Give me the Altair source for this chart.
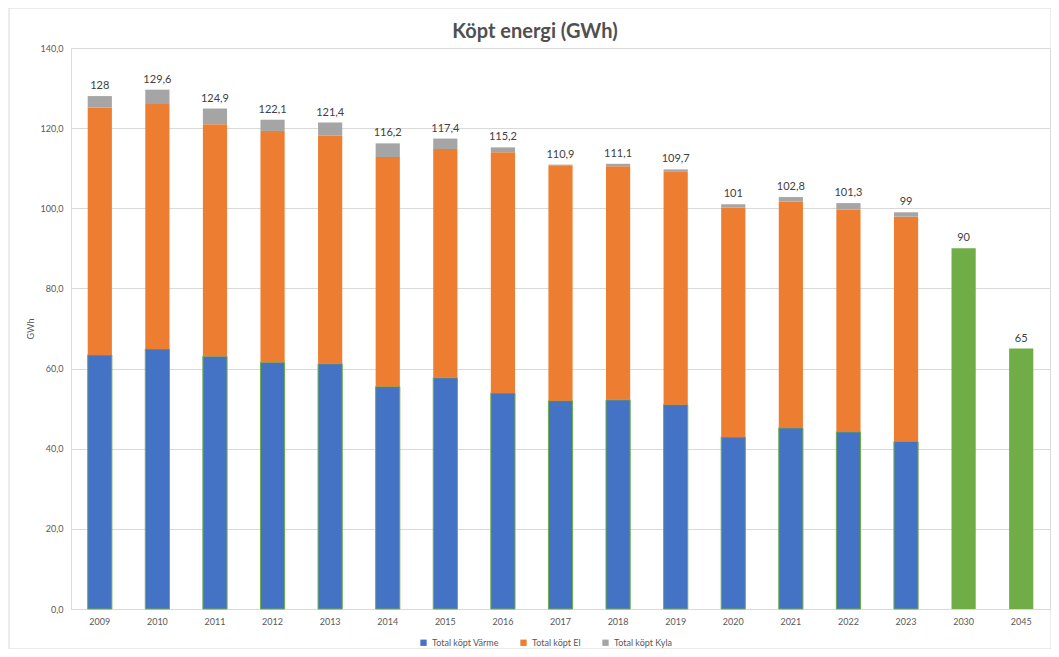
import altair as alt
import pandas as pd

years = ["2009", "2010", "2011", "2012", "2013", "2014", "2015", "2016",
         "2017", "2018", "2019", "2020", "2021", "2022", "2023"]
varme = [63.4, 64.9, 63.1, 61.6, 61.2, 55.5, 57.7, 53.9,
         52.0, 52.2, 51.0, 42.9, 45.2, 44.2, 41.8]
el = [61.7, 61.1, 57.9, 57.7, 56.9, 57.3, 57.1, 60.1,
      58.6, 58.3, 58.1, 57.3, 56.5, 55.5, 56.1]
kyla = [2.9, 3.6, 3.9, 2.8, 3.3, 3.4, 2.6, 1.2,
        0.3, 0.6, 0.6, 0.8, 1.1, 1.6, 1.1]

goal_years = ["2030", "2045"]
goal_values = [90, 65]

all_years = years + goal_years
totals = [128, 129.6, 124.9, 122.1, 121.4, 116.2, 117.4, 115.2,
          110.9, 111.1, 109.7, 101, 102.8, 101.3, 99, 90, 65]
total_labels = ["128", "129,6", "124,9", "122,1", "121,4", "116,2", "117,4", "115,2",
                "110,9", "111,1", "109,7", "101", "102,8", "101,3", "99", "90", "65"]

series = ["Total köpt Värme", "Total köpt El", "Total köpt Kyla"]
series_colors = ["#4472C4", "#ED7D31", "#A5A5A5"]
series_strokes = ["#70AD47", "transparent", "transparent"]
goal_color = "#70AD47"
title_text = "Köpt energi (GWh)"

FONT = "Lato"
TXT = "#595959"

rows = []
for i, y in enumerate(years):
    for k, (name, vals) in enumerate(zip(series, [varme, el, kyla])):
        rows.append({"year": y, "serie": name, "value": vals[i], "ord": k})
stack_df = pd.DataFrame(rows)
goal_df = pd.DataFrame({"year": goal_years, "value": goal_values})
label_df = pd.DataFrame({"year": all_years, "total": totals, "label": total_labels})
single_df = pd.DataFrame({"t": [title_text]})

x_enc = alt.X("year:N", scale=alt.Scale(domain=all_years, paddingInner=0.58, paddingOuter=0.29),
              axis=alt.Axis(title=None, labelAngle=0, ticks=False, domain=True,
                            domainColor="#D9D9D9", labelFont=FONT, labelFontSize=9,
                            labelColor=TXT, labelPadding=8, grid=False))
y_scale = alt.Scale(domain=[0, 140])

bars = alt.Chart(stack_df).mark_bar(strokeWidth=1).encode(
    x=x_enc,
    y=alt.Y("value:Q", stack="zero", scale=y_scale,
            axis=alt.Axis(title="GWh", values=[0, 20, 40, 60, 80, 100, 120, 140],
                          labelExpr="replace(format(datum.value, '.1f'), '.', ',')",
                          ticks=False, domain=False, gridColor="#D9D9D9",
                          labelFont=FONT, labelFontSize=9, labelColor=TXT,
                          labelPadding=8, titleFont=FONT, titleFontSize=9,
                          titleFontWeight="normal", titleColor=TXT, titlePadding=5)),
    color=alt.Color("serie:N", scale=alt.Scale(domain=series, range=series_colors),
                    sort=series,
                    legend=alt.Legend(title=None, orient="none", direction="horizontal",
                                      legendX=348, legendY=590, symbolType="square",
                                      symbolSize=40, symbolStrokeWidth=0,
                                      labelFont=FONT, labelFontSize=9, labelColor=TXT,
                                      columnPadding=20)),
    stroke=alt.Stroke("serie:N", scale=alt.Scale(domain=series, range=series_strokes),
                      legend=None),
    order=alt.Order("ord:Q"),
)

goal_bars = alt.Chart(goal_df).mark_bar(color=goal_color).encode(
    x=alt.X("year:N"),
    y=alt.Y("value:Q", scale=y_scale),
)

labels = alt.Chart(label_df).mark_text(
    font=FONT, fontSize=11, color="#404040", baseline="alphabetic", dy=-7
).encode(
    x=alt.X("year:N"),
    y=alt.Y("total:Q", scale=y_scale),
    text="label:N",
)

frame = alt.Chart(single_df).mark_rect(filled=False, stroke="#D9D9D9", strokeWidth=1).encode(
    x=alt.value(-62), x2=alt.value(980), y=alt.value(-40), y2=alt.value(601)
)

title = alt.Chart(single_df).mark_text(
    font=FONT, fontSize=20, fontWeight="bold", color="#505050", align="center", baseline="middle"
).encode(
    x=alt.value(464), y=alt.value(-16), text="t:N"
)

chart = alt.layer(frame, bars, goal_bars, labels, title).properties(
    width=979, height=561,
    autosize=alt.AutoSizeParams(type="none"),
    padding={"left": 63, "top": 40, "right": 1, "bottom": 40},
).configure_view(stroke=None).configure(background="white")

chart.save("out.html", embed_options={"renderer": "svg", "actions": False})
